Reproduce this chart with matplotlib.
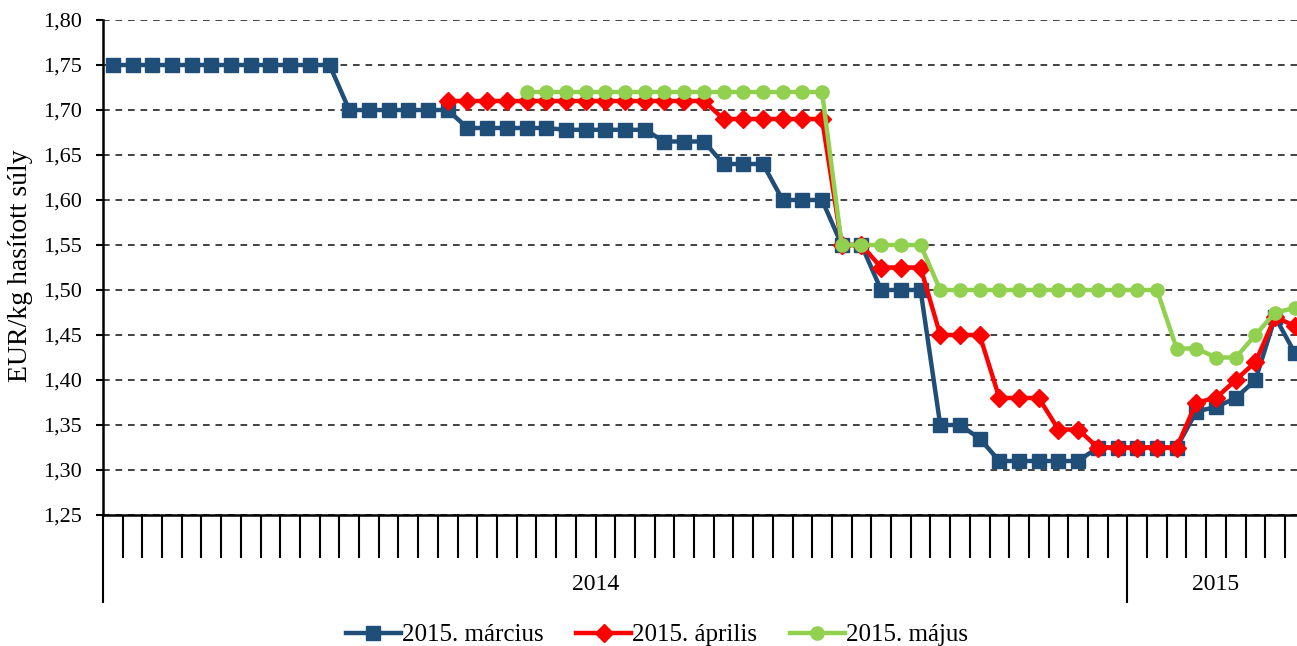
import numpy as np
import matplotlib
matplotlib.use("Agg")
import matplotlib.pyplot as plt
from matplotlib.ticker import FuncFormatter, FixedLocator

nan = np.nan

# heti árak (EUR/kg hasított súly), 2014 1. hét -> 2015 9. hét
marcius = [1.75, 1.75, 1.75, 1.75, 1.75, 1.75, 1.75, 1.75, 1.75, 1.75, 1.75, 1.75,
           1.70, 1.70, 1.70, 1.70, 1.70, 1.70,
           1.68, 1.68, 1.68, 1.68, 1.68, 1.678, 1.678, 1.678, 1.678, 1.678,
           1.665, 1.665, 1.665, 1.64, 1.64, 1.64, 1.60, 1.60, 1.60,
           1.55, 1.55, 1.50, 1.50, 1.50, 1.35, 1.35, 1.335,
           1.31, 1.31, 1.31, 1.31, 1.31,
           1.325, 1.325, 1.325, 1.325, 1.325,
           1.365, 1.37, 1.38, 1.40, 1.47, 1.43]

aprilis = [nan, nan, nan, nan, nan, nan, nan, nan, nan, nan, nan, nan,
           nan, nan, nan, nan, nan,
           1.71, 1.71, 1.71, 1.71, 1.71, 1.71, 1.71, 1.71, 1.71, 1.71, 1.71,
           1.71, 1.71, 1.71, 1.69, 1.69, 1.69, 1.69, 1.69, 1.69,
           1.55, 1.55, 1.525, 1.525, 1.525, 1.45, 1.45, 1.45,
           1.38, 1.38, 1.38, 1.345, 1.345,
           1.325, 1.325, 1.325, 1.325, 1.325,
           1.375, 1.38, 1.40, 1.42, 1.47, 1.46]

majus = [nan, nan, nan, nan, nan, nan, nan, nan, nan, nan, nan, nan,
         nan, nan, nan, nan, nan, nan, nan, nan, nan,
         1.72, 1.72, 1.72, 1.72, 1.72, 1.72, 1.72, 1.72, 1.72, 1.72, 1.72,
         1.72, 1.72, 1.72, 1.72, 1.72,
         1.55, 1.55, 1.55, 1.55, 1.55,
         1.50, 1.50, 1.50, 1.50, 1.50, 1.50, 1.50, 1.50, 1.50, 1.50, 1.50, 1.50,
         1.435, 1.435, 1.425, 1.425, 1.45, 1.475, 1.48]

weeks_2014 = 52
years = ["2014", "2015"]
labels = ["2015. március", "2015. április", "2015. május"]

plt.rcParams['font.family'] = ['Liberation Serif', 'DejaVu Serif']
plt.rcParams['font.size'] = 16

W, H = 1297, 646
fig = plt.figure(figsize=(W / 100, H / 100), dpi=100)
ax = fig.add_axes([103 / W, 1 - 515 / H, (W - 103) / W, 495 / H])

x = np.arange(len(marcius))
ax.plot(x, marcius, color='#1F4E79', lw=3.2, marker='s', ms=10.5, label=labels[0], zorder=3)
ax.plot(x, aprilis, color='#FF0000', lw=3.2, marker='D', ms=9, label=labels[1], zorder=4)
ax.plot(x, majus, color='#92D050', lw=3.2, marker='o', ms=9.5, label=labels[2], zorder=5)

ax.set_ylim(1.25, 1.80)
ax.set_xlim(-0.5, -0.5 + (W - 103) / 19.7)
ax.set_yticks(np.arange(1.25, 1.801, 0.05))
ax.yaxis.set_major_formatter(FuncFormatter(lambda v, p: f"{v:.2f}".replace('.', ',')))
ax.yaxis.grid(True, color='#222222', ls=(0, (4, 3.5)), lw=1.2)
ax.set_axisbelow(True)

for s in ['top', 'right']:
    ax.spines[s].set_visible(False)
ax.spines['left'].set_linewidth(1.8)
ax.spines['bottom'].set_linewidth(1.8)
ax.tick_params(axis='y', direction='out', length=5, width=1.5, pad=10, labelsize=16)

# kategória-határok az x tengelyen
bounds = np.arange(len(marcius) + 1) - 0.5
ax.xaxis.set_minor_locator(FixedLocator(bounds))
ax.xaxis.set_major_locator(FixedLocator([-0.5, weeks_2014 - 0.5]))
ax.tick_params(axis='x', which='minor', direction='out', length=31, width=1.5)
ax.tick_params(axis='x', which='major', direction='out', length=63, width=1.5, labelbottom=False)

ax.text(24.5, -70 / 495, years[0], transform=ax.get_xaxis_transform(), ha='center', va='center',
        fontsize=17)
ax.text(55.95, -70 / 495, years[1], transform=ax.get_xaxis_transform(), ha='center', va='center',
        fontsize=17)

fig.text(21 / W, 1 - 266 / H, "EUR/kg hasított súly", rotation=90, ha='center', va='center',
         fontsize=20)

fig.legend(loc='center', bbox_to_anchor=(657 / W, 1 - 635 / H), ncol=3, frameon=False,
           fontsize=18, handlelength=2.2, handletextpad=0.05, columnspacing=1.3, borderaxespad=0)

fig.savefig("out.png", dpi=100)
